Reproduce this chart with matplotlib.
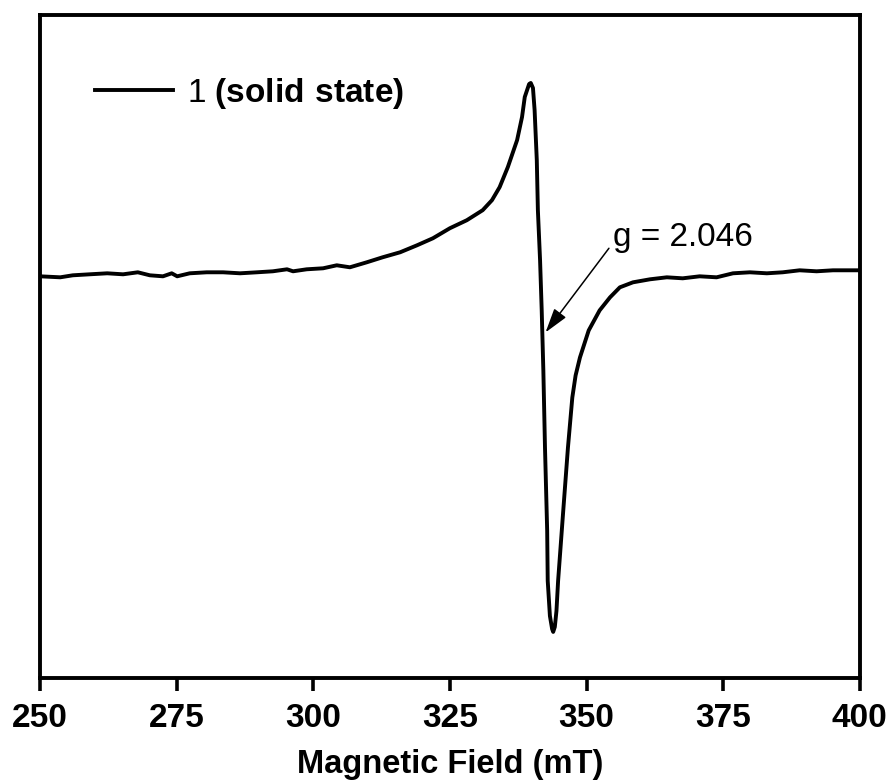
import numpy as np
import matplotlib
matplotlib.use("Agg")
import matplotlib.pyplot as plt

plt.rcParams["font.family"] = ["Liberation Sans", "DejaVu Sans"]
plt.rcParams["mathtext.fontset"] = "custom"
plt.rcParams["mathtext.rm"] = "Liberation Sans"
plt.rcParams["mathtext.bf"] = "Liberation Sans:bold"

# EPR spectrum (field in mT, intensity in a.u.)
field = np.array([250.0, 253.7, 256.0, 259.1, 262.3, 265.2, 267.9, 270.1, 272.5, 274.1,
                  275.1, 277.4, 280.5, 283.5, 286.6, 289.7, 292.6, 295.2, 296.3, 298.8,
                  301.8, 304.3, 306.7, 309.8, 312.7, 315.9, 319.0, 321.9, 325.0, 328.1,
                  331.0, 332.7, 334.1, 335.6, 337.3, 338.2, 338.7, 339.5, 339.8, 340.2,
                  340.5, 340.9, 341.1, 341.5, 341.8, 342.1, 342.4, 342.8, 342.9, 343.3,
                  343.7, 343.9, 344.2, 344.5, 344.8, 345.7, 346.6, 347.4, 348.0, 348.8,
                  350.4, 352.4, 354.3, 356.1, 358.5, 361.6, 364.7, 367.6, 370.7, 373.8,
                  376.8, 379.9, 383.0, 385.9, 389.0, 392.1, 395.1, 398.2, 400.0])
intensity = np.array([-1, -2, 0, 1, 2, 1, 3, 0, -1, 2,
                      -1, 2, 3, 3, 2, 3, 4, 6, 4, 6,
                      7, 10, 8, 13, 18, 23, 30, 37, 47, 55,
                      65, 75, 88, 108, 135, 158, 178, 191, 192, 187,
                      165, 115, 65, 15, -35, -95, -172, -255, -305, -340,
                      -353, -356, -351, -335, -305, -238, -172, -122, -100, -82,
                      -55, -35, -22, -12, -7, -4, -2, -3, -1, -2,
                      2, 3, 2, 3, 5, 4, 5, 5, 5])

xticks = [250, 275, 300, 325, 350, 375, 400]
legend_label = r"1 $\mathbf{(solid\ state)}$"
g_label = "g = 2.046"
g_text_pos = (354.9, 38)
g_arrow_tail = (354.1, 27)
g_arrow_head = (342.5, -57)

fig = plt.figure(figsize=(8.93, 7.82), dpi=100)
ax = fig.add_axes([0.0448, 0.133, 0.918, 0.848])

ax.plot(field, intensity, color="black", lw=2.8, label=legend_label)

ax.set_xlim(250, 400)
ax.set_ylim(-402, 260)
ax.set_xticks(xticks)
ax.set_yticks([])
ax.tick_params(axis="x", direction="out", length=9, width=2.6, pad=9, labelsize=24)
for lab in ax.get_xticklabels():
    lab.set_fontweight("bold")
for s in ax.spines.values():
    s.set_linewidth(2.8)

ax.set_xlabel("Magnetic Field (mT)", fontsize=23.5, fontweight="bold", labelpad=11)

# g-value annotation
ax.text(g_text_pos[0], g_text_pos[1], g_label, fontsize=24, ha="left", va="center")
ax.annotate("", xy=g_arrow_head, xytext=g_arrow_tail,
            arrowprops=dict(arrowstyle="-|>,head_length=1.0,head_width=0.3",
                            mutation_scale=15, color="black", lw=1.1,
                            shrinkA=0, shrinkB=0))

ax.legend(loc="center left", bbox_to_anchor=(0.067, 0.882), frameon=False,
          fontsize=24, handlelength=2.34, handletextpad=0.42,
          borderpad=0, borderaxespad=0)

fig.savefig("out.png", dpi=100)
